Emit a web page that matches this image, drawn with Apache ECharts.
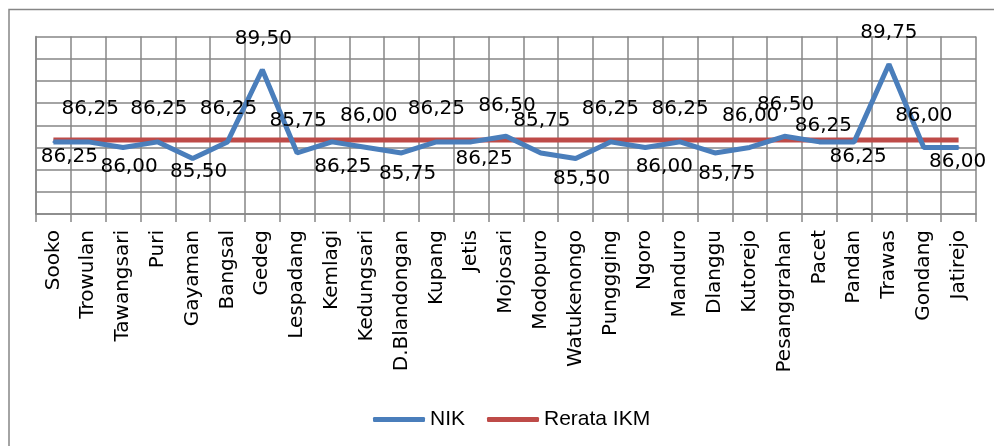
<!DOCTYPE html>
<html>
<head>
<meta charset="UTF-8">
<title>NIK</title>
<script src="https://cdn.jsdelivr.net/npm/echarts@6/dist/echarts.min.js"></script>
<style>
	html, body { margin: 0; padding: 0; background: #fff; }
	#chart { width: 994px; height: 446px; }
</style>
</head>
<body>
<div id="chart"></div>
<script>
// data
var kecamatan = ['Sooko', 'Trowulan', 'Tawangsari', 'Puri', 'Gayaman', 'Bangsal', 'Gedeg', 'Lespadang', 'Kemlagi',
	'Kedungsari', 'D.Blandongan', 'Kupang', 'Jetis', 'Mojosari', 'Modopuro', 'Watukenongo', 'Punggging', 'Ngoro',
	'Manduro', 'Dlanggu', 'Kutorejo', 'Pesanggrahan', 'Pacet', 'Pandan', 'Trawas', 'Gondang', 'Jatirejo'];
var nik = [86.25, 86.25, 86.00, 86.25, 85.50, 86.25, 89.50, 85.75, 86.25,
	86.00, 85.75, 86.25, 86.25, 86.50, 85.75, 85.50, 86.25, 86.00,
	86.25, 85.75, 86.00, 86.50, 86.25, 86.25, 89.75, 86.00, 86.00];
var rerataIkm = [86.33, 86.33, 86.33, 86.33, 86.33, 86.33, 86.33, 86.33, 86.33,
	86.33, 86.33, 86.33, 86.33, 86.33, 86.33, 86.33, 86.33, 86.33,
	86.33, 86.33, 86.33, 86.33, 86.33, 86.33, 86.33, 86.33, 86.33];

// where each value label sits relative to its point (as in the original)
var labelShift = [[16, 15], [2, -33], [6, 19], [1, -33], [6, 13], [1, -33], [1, -31], [1, -32], [11, 25],
	[2, -32], [6, 21], [0, -33], [13, 17], [1, -31], [1, -32], [6, 20], [0, -33], [19, 19],
	[0, -33], [12, 21], [1, -32], [1, -32], [4, -16], [4, 15], [0, -31], [0, -32], [-1, 14]];

var grey = '#868686';
var chart = echarts.init(document.getElementById('chart'));

var nikData = nik.map(function(v, i) {
	return {
		value: v,
		label: { offset: labelShift[i] }
	};
});

chart.setOption({
	animation: false,
	graphic: [{
		type: 'rect',
		shape: { x: 9, y: 9.5, width: 1000, height: 500 },
		style: { fill: 'none', stroke: grey, lineWidth: 1.5 },
		silent: true
	}],
	grid: { left: 36, right: 18, top: 36.5, bottom: 232 },
	legend: {
		left: 368,
		top: 404,
		itemWidth: 52,
		itemHeight: 5,
		itemGap: 22,
		icon: 'roundRect',
		textStyle: { fontFamily: 'Liberation Sans', fontSize: 21, color: '#000' },
		data: ['NIK', 'Rerata IKM']
	},
	xAxis: {
		type: 'category',
		data: kecamatan,
		boundaryGap: true,
		axisLine: { show: true, lineStyle: { color: grey, width: 1.5 } },
		axisTick: { show: true, length: 8, interval: 0, lineStyle: { color: grey, width: 1.5 } },
		splitLine: { show: true, interval: 0, lineStyle: { color: grey, width: 1.5 } },
		axisLabel: {
			interval: 0,
			rotate: 90,
			margin: 16,
			fontFamily: 'DejaVu Sans',
			fontSize: 20,
			color: '#000'
		}
	},
	yAxis: {
		type: 'value',
		min: 83,
		max: 91,
		interval: 1,
		axisLine: { show: true, lineStyle: { color: grey, width: 1.5 } },
		axisTick: { show: false },
		axisLabel: { show: false },
		splitLine: { show: true, lineStyle: { color: grey, width: 1.5 } }
	},
	series: [{
		name: 'NIK',
		type: 'line',
		data: nikData,
		symbol: 'circle',
		symbolSize: 2,
		itemStyle: { color: '#4a7ebb' },
		lineStyle: { color: '#4a7ebb', width: 5 },
		label: {
			show: true,
			position: 'inside',
			fontFamily: 'DejaVu Sans',
			fontSize: 20,
			color: '#000',
			formatter: function(p) {
				return p.value.toFixed(2).replace('.', ',');
			}
		},
		z: 3
	}, {
		name: 'Rerata IKM',
		type: 'line',
		data: rerataIkm,
		symbol: 'none',
		itemStyle: { color: '#be4b48' },
		lineStyle: { color: '#be4b48', width: 5 },
		z: 2
	}]
});
</script>
</body>
</html>
